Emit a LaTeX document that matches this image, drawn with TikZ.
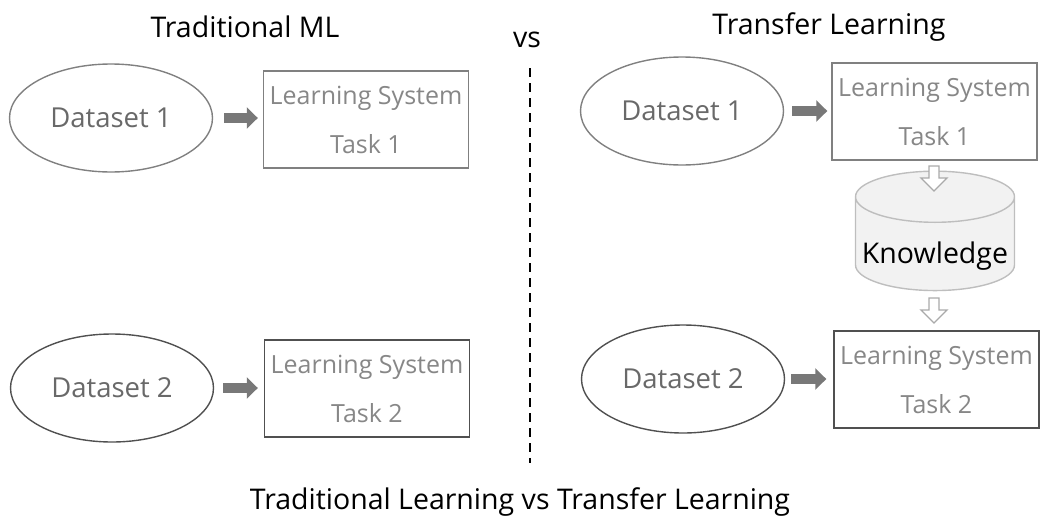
\documentclass[tikz,border=0pt]{standalone}
\usepackage{fontspec}
\setmainfont{Open Sans}
\usetikzlibrary{arrows.meta, shapes.geometric}
\usepackage{xcolor}
\definecolor{textgray}{RGB}{105,105,105}
\definecolor{boxtext}{RGB}{135,135,135}
\definecolor{lightedge}{RGB}{128,128,128}
\definecolor{darkedge}{RGB}{80,80,80}
\definecolor{arrowgray}{RGB}{120,120,120}
\definecolor{hollowgray}{RGB}{170,170,170}
\definecolor{cylfill}{RGB}{242,242,242}
\definecolor{cyledge}{RGB}{190,190,190}

\begin{document}
\begin{tikzpicture}[
        x=1pt, y=-1pt,
        datanode/.style={shape=ellipse, minimum width=203pt, minimum height=108pt, inner sep=0pt, line width=1.4pt, text=textgray, font=\fontsize{27.5}{32}\selectfont},
        systemnode/.style={shape=rectangle, minimum width=205pt, minimum height=97pt, inner sep=0pt, line width=1.4pt, text=boxtext, align=center, font=\fontsize{25}{49}\selectfont},
        titlenode/.style={font=\fontsize{28.5}{33}\selectfont},
        knownode/.style={shape=cylinder, shape border rotate=90, aspect=0.35, minimum width=159pt, minimum height=96pt, inner sep=0pt, text height=40pt, text depth=2pt, draw=cyledge, fill=cylfill, line width=1.4pt, font=\fontsize{28.5}{33}\selectfont},
        fatarrow/.style={draw=arrowgray, line width=10pt, -{Triangle[length=11pt, width=21pt]}},
        hollowarrow/.style={draw=hollowgray, fill=white, line width=1.3pt, line join=miter}
        ]
        \useasboundingbox (0,0) rectangle (1040,530);

        %% Titles
        \node[titlenode] (tradtitle) at (245,27) {Traditional ML};
        \node[titlenode] (vs) at (527,40) {vs};
        \node[titlenode] (transtitle) at (829,27) {Transfer Learning};
        \node[titlenode] (caption) at (520,502) {Traditional Learning vs Transfer Learning};

        %% Divider
        \coordinate (divtop) at (530,68);
        \coordinate (divbot) at (530,463);
        \draw[line width=2pt, dash pattern=on 9pt off 6pt] (divtop) -- (divbot);

% Traditional ML
        \node[datanode, draw=lightedge] (tds1) at (111,118) {Dataset 1};
        \node[systemnode, draw=lightedge] (tls1) at (366,119.5) {Learning System\\Task 1};
        \node[datanode, draw=darkedge] (tds2) at (112,388) {Dataset 2};
        \node[systemnode, draw=darkedge] (tls2) at (367,388.5) {Learning System\\Task 2};

        \draw[fatarrow, shorten <=11pt, shorten >=5pt] (tds1.east) -- (tds1.east -| tls1.west);
        \draw[fatarrow, shorten <=9pt, shorten >=6pt] (tds2.east) -- (tds2.east -| tls2.west);

% Transfer Learning
        \node[datanode, draw=lightedge] (rds1) at (682,111) {Dataset 1};
        \node[systemnode, draw=lightedge] (rls1) at (934.5,111.5) {Learning System\\Task 1};
        \node[knownode] (know) at (935,244) {Knowledge};
        \node[datanode, draw=darkedge] (rds2) at (683,379) {Dataset 2};
        \node[systemnode, draw=darkedge] (rls2) at (936.5,379.5) {Learning System\\Task 2};

        \draw[fatarrow, shorten <=8pt, shorten >=4pt] (rds1.east) -- (rds1.east -| rls1.west);
        \draw[fatarrow, shorten <=6pt, shorten >=7pt] (rds2.east) -- (rds2.east -| rls2.west);

        %% hollow arrows into and out of the knowledge store
        \coordinate (down1) at (934,166);
        \coordinate (down2) at (934,298);
        \foreach \tip in {down1, down2} {
            \draw[hollowarrow] (\tip) ++(-5,0) -- ++(10,0) -- ++(0,12) -- ++(8,0) -- ++(-13,13) -- ++(-13,-13) -- ++(8,0) -- cycle;
        }
\end{tikzpicture}
\end{document}
